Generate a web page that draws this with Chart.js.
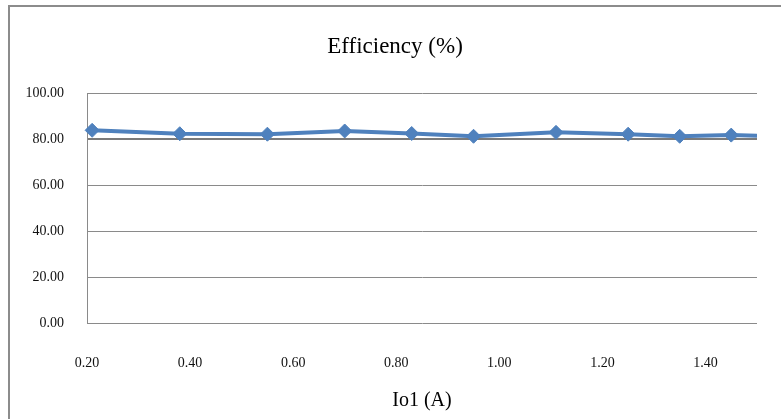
<!DOCTYPE html>
<html>
<head>
<meta charset="utf-8">
<script src="https://cdn.jsdelivr.net/npm/chart.js@4/dist/chart.umd.min.js"></script>
<style>
  html, body { margin: 0; padding: 0; background: #fff; overflow: hidden; }
  #wrap { position: relative; width: 781px; height: 419px; }
  #frame { position: absolute; left: 8px; top: 5px; width: 900px; height: 600px;
           border: 2px solid #8c8c8c; pointer-events: none; }
</style>
</head>
<body>
<div id="wrap">
  <canvas id="effChart"></canvas>
  <div id="frame"></div>
</div>
<script>
// Output current Io1 (A) and measured efficiency (%)
const loadCurrent = [0.21, 0.38, 0.55, 0.70, 0.83, 0.95, 1.11, 1.25, 1.35, 1.45, 1.55];
const efficiency  = [84.0, 82.5, 82.3, 83.7, 82.6, 81.4, 83.1, 82.3, 81.4, 81.9, 81.3];

const xTicks = [0.2, 0.4, 0.6, 0.8, 1.0, 1.2, 1.4];
const yTicks = [0, 20, 40, 60, 80, 100];

const BLUE = '#4F81BD';
const GRID = '#8a8a8a';

Chart.defaults.font.family = '"Liberation Serif", "Times New Roman", serif';
Chart.defaults.color = '#111';

const points = loadCurrent.map((x, i) => ({ x, y: efficiency[i] }));

// title is centred over the whole framed area, not just the left part
const shiftTitle = {
  id: 'shiftTitle',
  afterLayout(chart) {
    if (chart.titleBlock) chart.titleBlock.left = 33;
  }
};

new Chart(document.getElementById('effChart'), {
  type: 'line',
  data: {
    datasets: [{
      label: 'Efficiency (%)',
      data: points,
      borderColor: BLUE,
      backgroundColor: BLUE,
      borderWidth: 4,
      tension: 0,
      pointStyle: 'rectRot',
      pointRadius: 7,
      pointBorderWidth: 1,
      pointBackgroundColor: BLUE,
      pointBorderColor: BLUE,
      clip: { left: 8, top: 8, right: 0, bottom: 8 },
    }]
  },
  options: {
    responsive: true,
    maintainAspectRatio: false,
    animation: false,
    layout: { padding: { left: 0, right: 24, top: 0, bottom: 0 } },
    plugins: {
      legend: { display: false },
      tooltip: { enabled: false },
      title: {
        display: true,
        text: 'Efficiency (%)',
        color: '#000',
        font: { size: 23, weight: 'normal' },
        padding: { top: 33, bottom: 33 },
      },
    },
    scales: {
      x: {
        type: 'linear',
        min: 0.2,
        max: 1.5,
        afterBuildTicks: s => { s.ticks = xTicks.map(v => ({ value: v })); },
        afterFit: s => { s.height = 96; },
        ticks: {
          padding: 32,
          font: { size: 14 },
          color: '#111',
          maxRotation: 0,
          callback: v => v.toFixed(2),
        },
        grid: { display: false, drawTicks: false },
        border: { display: false },
        title: {
          display: true,
          text: 'Io1 (A)',
          color: '#000',
          font: { size: 20 },
          padding: { top: 0, bottom: 6 },
        },
      },
      y: {
        min: 0,
        max: 100,
        afterBuildTicks: s => { s.ticks = yTicks.map(v => ({ value: v })); },
        afterFit: s => { s.width = 87; },
        ticks: {
          padding: 23,
          font: { size: 14 },
          color: '#111',
          callback: v => v.toFixed(2),
        },
        grid: {
          drawTicks: false,
          color: ctx => ctx.tick && ctx.tick.value === 80 ? '#7a7a7a' : GRID,
          lineWidth: ctx => ctx.tick && ctx.tick.value === 80 ? 2 : 1,
        },
        border: { display: true, color: GRID, width: 1 },
      },
    },
  },
  plugins: [shiftTitle],
});
</script>
</body>
</html>
